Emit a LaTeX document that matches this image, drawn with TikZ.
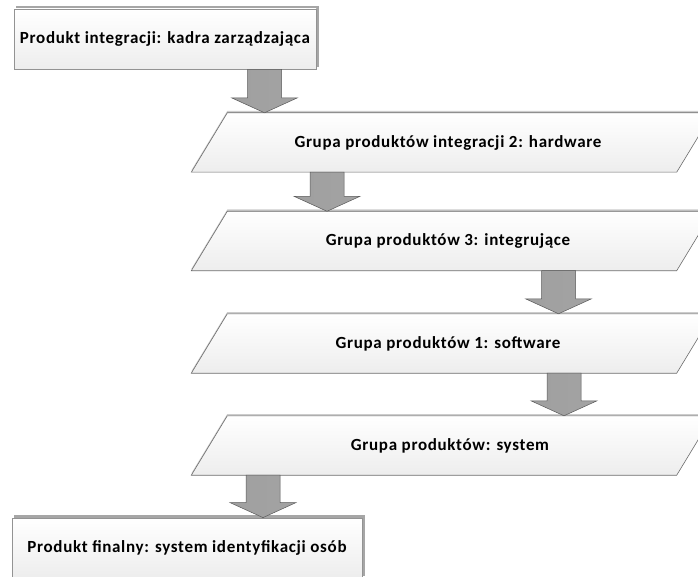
\documentclass[tikz,border=0pt]{standalone}
\usepackage{fontspec}
\setmainfont{Carlito}[LetterSpace=4]
\usetikzlibrary{calc,backgrounds}
\tikzset{
  x=1pt, y=-1pt,
  lbl/.style={font=\bfseries\fontsize{17}{20}\selectfont, text=black},
  rectbox/.style={lbl, draw=gray!85, line width=0.8pt, top color=white, bottom color=gray!14},
  paranode/.style={lbl, minimum width=485pt, minimum height=59pt, inner sep=0pt},
  parashape/.style={draw=gray!85!black, line width=0.6pt, top color=white, bottom color=gray!14},
  parashadow/.style={fill=gray!40},
  boxshadow/.style={fill=gray!70},
  arrowstyle/.style={draw=gray!70!black, line width=0.5pt, left color=gray!75, middle color=gray!38, right color=gray!72},
}
\newcommand\blockarr[2]{%
  \path[arrowstyle] let \p1=(#1), \p2=(#2) in
    (\x1-17pt,\y1) -- (\x1+17pt,\y1) -- (\x1+17pt,\y2+15pt) -- (\x1+33pt,\y2+15pt)
    -- (\x1,\y2) -- (\x1-33pt,\y2+15pt) -- (\x1-17pt,\y2+15pt) -- cycle;}
\newcommand\paradraw[1]{%
  \path[parashadow] ([shift={(-18pt,1.8pt)}]#1.south west) -- ([shift={(-18pt,1.8pt)}]#1.south east)
    -- ([shift={(18pt,1.8pt)}]#1.north east) -- ([shift={(18pt,1.8pt)}]#1.north west) -- cycle;
  \path[parashape] ([xshift=-18pt]#1.south west) -- ([xshift=-18pt]#1.south east)
    -- ([xshift=18pt]#1.north east) -- ([xshift=18pt]#1.north west) -- cycle;}
\begin{document}
\begin{tikzpicture}
\useasboundingbox (0,0) rectangle (698,577);
\clip (0,0) rectangle (698,577);

% nodes (positions)
\path node[paranode] (p1) at (452,142.5) {};
\path node[paranode] (p2) at (452,241) {};
\path node[paranode] (p3) at (452,343.5) {};
\path node[paranode] (p4) at (452,445.5) {};

\paradraw{p1}
\paradraw{p2}
\paradraw{p3}
\paradraw{p4}

\node[lbl] at (448,142.5) {Grupa produktów integracji 2: hardware};
\node[lbl] at (448,241) {Grupa produktów 3: integrujące};
\node[lbl] at (448,343.5) {Grupa produktów 1: software};
\node[lbl] at (450,445.5) {Grupa produktów: system};

\node[rectbox, minimum width=302pt, minimum height=60pt, inner sep=0pt] (b1) at (165,39)
  {Produkt integracji: kadra zarządzająca};
\node[rectbox, minimum width=350pt, minimum height=60pt, inner sep=0pt] (b2) at (187,548)
  {Produkt finalny: system identyfikacji osób};

\begin{scope}[on background layer]
  \fill[white] (0,0) rectangle (698,577);
  \path[boxshadow] ([shift={(2.5pt,2.5pt)}]b1.south west) rectangle ([shift={(2.5pt,2.5pt)}]b1.north east);
  \path[boxshadow] ([shift={(2.5pt,2.5pt)}]b2.south west) rectangle ([shift={(2.5pt,2.5pt)}]b2.north east);
\end{scope}

\coordinate (a1) at (264.5,0);
\coordinate (a2) at (327,0);
\coordinate (a3) at (558.5,0);
\coordinate (a4) at (564,0);
\coordinate (a5) at (263,0);

\blockarr{b1.south -| a1}{p1.north -| a1}
\blockarr{p1.south -| a2}{p2.north -| a2}
\blockarr{p2.south -| a3}{p3.north -| a3}
\blockarr{p3.south -| a4}{p4.north -| a4}
\blockarr{p4.south -| a5}{b2.north -| a5}
\end{tikzpicture}
\end{document}
